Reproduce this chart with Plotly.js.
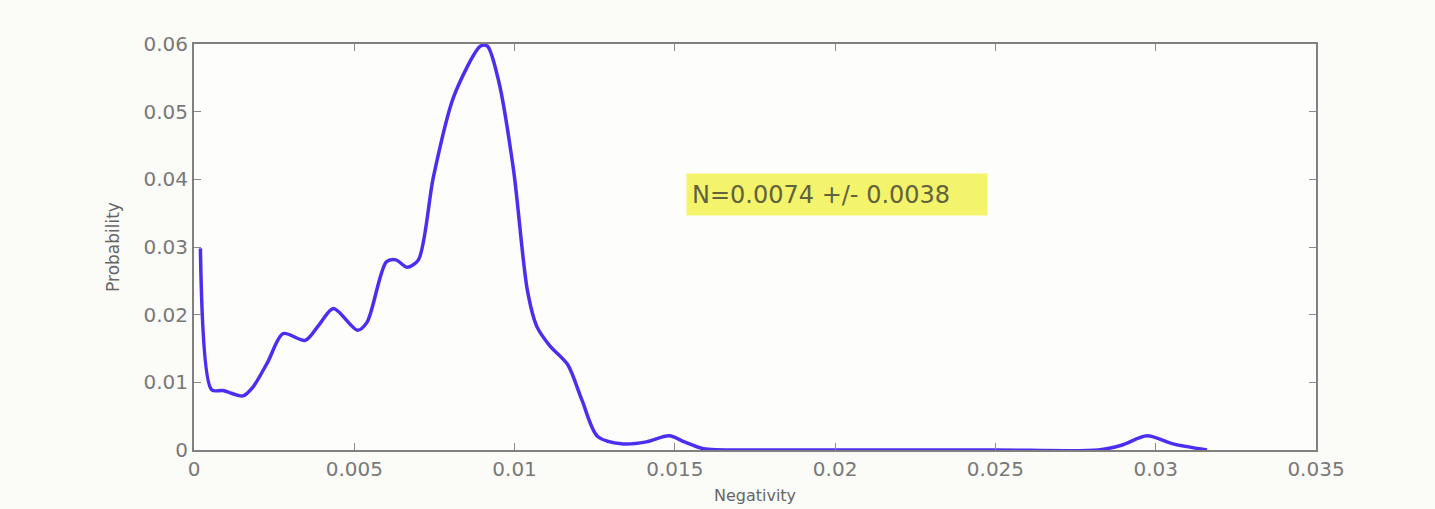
<!DOCTYPE html>
<html>
<head>
<meta charset="utf-8">
<script src="https://cdn.plot.ly/plotly-3.0.1.min.js"></script>
<style>
  html, body { margin: 0; padding: 0; background: #fbfbf8; }
  #chart { width: 1435px; height: 509px; }
</style>
</head>
<body>
<div id="chart"></div>
<script>
// Negativity values (x) and probability values (y)
const negativity = [
  0.0002, 0.00055, 0.0009, 0.00153, 0.00184, 0.0023, 0.00278, 0.00347, 0.0039, 0.00435,
  0.0051, 0.0054, 0.0060, 0.0063, 0.00665, 0.0070, 0.00747, 0.0081, 0.00894, 0.00915,
  0.0095, 0.00997, 0.0104, 0.0107, 0.0111, 0.01166, 0.0121, 0.01259, 0.01339, 0.01411,
  0.01482, 0.0153, 0.01589, 0.0175, 0.020, 0.025, 0.02821, 0.02893, 0.02973, 0.03054,
  0.0316
];
const probability = [
  0.0298, 0.0089, 0.0088, 0.0080, 0.0093, 0.0130, 0.0172, 0.0162, 0.0185, 0.0209,
  0.0177, 0.0189, 0.0278, 0.0281, 0.0270, 0.0281, 0.0404, 0.0522, 0.0597, 0.0597,
  0.0546, 0.0413, 0.0236, 0.0182, 0.0154, 0.0126, 0.0074, 0.0020, 0.0009, 0.0012,
  0.0021, 0.0012, 0.0002, 0.0, 0.0, 0.0, 0.0, 0.0007, 0.0021, 0.0009,
  0.0
];
const xTickVals = [0, 0.005, 0.01, 0.015, 0.02, 0.025, 0.03, 0.035];
const xTickText = ['0', '0.005', '0.01', '0.015', '0.02', '0.025', '0.03', '0.035'];
const yTickVals = [0, 0.01, 0.02, 0.03, 0.04, 0.05, 0.06];
const yTickText = ['0', '0.01', '0.02', '0.03', '0.04', '0.05', '0.06'];
const statText = 'N=0.0074 +/- 0.0038';
const statX = 0.02005;
const statY = 0.0377;

const trace = {
  x: negativity,
  y: probability,
  type: 'scatter',
  mode: 'lines',
  line: { color: '#4b2ff0', width: 3.5, shape: 'spline', smoothing: 0.8 },
  hoverinfo: 'skip'
};

const axisCommon = {
  showgrid: false,
  zeroline: false,
  showline: true,
  linecolor: '#808080',
  linewidth: 2,
  mirror: 'ticks',
  ticks: 'inside',
  ticklen: 7,
  tickcolor: '#8a8a8a',
  tickwidth: 1,
  tickfont: { family: 'DejaVu Sans, sans-serif', size: 20, color: '#787878' }
};

const layout = {
  width: 1435,
  height: 509,
  paper_bgcolor: '#fbfbf8',
  plot_bgcolor: '#fdfdfb',
  margin: { l: 194, r: 119, t: 44, b: 59 },
  showlegend: false,
  xaxis: Object.assign({}, axisCommon, {
    range: [0, 0.035],
    tickmode: 'array',
    tickvals: xTickVals,
    ticktext: xTickText,
    title: { text: 'Negativity', font: { family: 'DejaVu Sans, sans-serif', size: 16, color: '#666666' }, standoff: 10 }
  }),
  yaxis: Object.assign({}, axisCommon, {
    range: [0, 0.06],
    tickmode: 'array',
    tickvals: yTickVals,
    ticktext: yTickText,
    title: { text: 'Probability', font: { family: 'DejaVu Sans, sans-serif', size: 17, color: '#666666' }, standoff: 20 }
  }),
  annotations: [{
    x: statX, y: statY, xref: 'x', yref: 'y',
    text: statText,
    showarrow: false,
    width: 290,
    height: 31,
    align: 'left',
    valign: 'middle',
    bgcolor: '#f4f46c',
    borderpad: 5,
    font: { family: 'DejaVu Sans, sans-serif', size: 24, color: '#62623e' }
  }]
};

Plotly.newPlot('chart', [trace], layout, { displayModeBar: false, staticPlot: true });
</script>
</body>
</html>
